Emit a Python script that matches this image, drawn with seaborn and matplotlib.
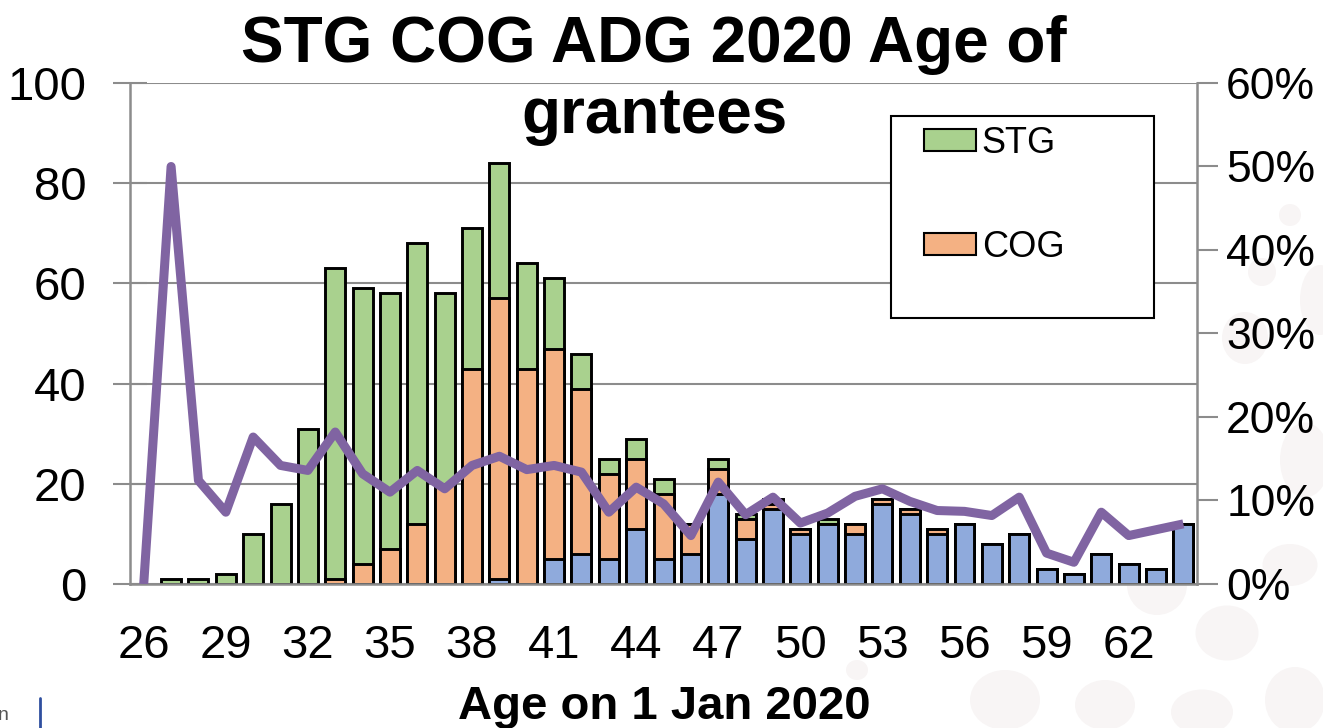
import numpy as np
import pandas as pd
import seaborn as sns
import matplotlib.pyplot as plt
from matplotlib.patches import Ellipse, Rectangle, Patch
from matplotlib.lines import Line2D
from matplotlib.ticker import PercentFormatter

# Datos
ages = [26, 27, 28, 29, 30, 31, 32, 33, 34, 35, 36, 37, 38, 39, 40, 41, 42, 43, 44,
        45, 46, 47, 48, 49, 50, 51, 52, 53, 54, 55, 56, 57, 58, 59, 60, 61, 62, 63, 64]
adg = [0, 0, 0, 0, 0, 0, 0, 0, 0, 0, 0, 0, 0, 1, 0, 5, 6, 5, 11,
       5, 6, 18, 9, 15, 10, 12, 10, 16, 14, 10, 12, 8, 10, 3, 2, 6, 4, 3, 12]
cog = [0, 0, 0, 0, 0, 0, 0, 1, 4, 7, 12, 20, 43, 56, 43, 42, 33, 17, 14,
       13, 6, 5, 4, 1, 1, 0, 2, 1, 1, 1, 0, 0, 0, 0, 0, 0, 0, 0, 0]
stg = [0, 1, 1, 2, 10, 16, 31, 62, 55, 51, 56, 38, 28, 27, 21, 14, 7, 3, 4,
       3, 0, 2, 1, 1, 0, 1, 0, 0, 0, 0, 0, 0, 0, 0, 0, 0, 0, 0, 0]
pct = [0, 50, 12.4, 8.6, 17.6, 14.2, 13.6, 18.2, 13.2, 11.0, 13.6, 11.4, 14.2, 15.3, 13.7, 14.2, 13.4, 8.6, 11.6,
       9.6, 5.8, 12.2, 8.3, 10.4, 7.3, 8.5, 10.5, 11.4, 9.9, 8.8, 8.7, 8.2, 10.4, 3.7, 2.6, 8.6, 5.8, 6.5, 7.2]

labels = [str(a) for a in ages]
df = pd.DataFrame({'age': labels, 'ADG': adg, 'COG': cog, 'STG': stg, 'pct': pct})
df['pos'] = df.index
# alturas acumuladas para apilar (las barras se dibujan una encima de otra)
df['total'] = (df['ADG'] + df['COG'] + df['STG']).replace(0, np.nan)
df['adg_cog'] = (df['ADG'] + df['COG']).replace(0, np.nan)
df['adg_only'] = df['ADG'].replace(0, np.nan)

verde = '#A9D18E'
naranja = '#F4B183'
azul = '#8FAADC'
morado = '#8064A2'
gris = '#8C8C8C'

sns.set_style('white')
plt.rcParams['font.family'] = ['Liberation Sans', 'DejaVu Sans']
plt.rcParams['text.color'] = 'black'
plt.rcParams['xtick.labelcolor'] = 'black'
plt.rcParams['ytick.labelcolor'] = 'black'

fig = plt.figure(figsize=(13.23, 7.28), dpi=100)

# circulos de fondo (marca de agua de la diapositiva)
W, H = 1323, 728
circulos = [(1290, 215, 22, 22), (1262, 272, 28, 28), (1245, 338, 46, 52), (1320, 300, 40, 70),
            (1305, 460, 50, 75), (1227, 633, 63, 55), (1295, 700, 60, 66), (1202, 712, 62, 45),
            (1290, 565, 55, 42), (1157, 585, 60, 60), (857, 670, 22, 20), (1005, 700, 70, 60),
            (1105, 705, 60, 50)]
for cx, cy, w, h in circulos:
    fig.add_artist(Ellipse((cx / W, 1 - cy / H), w / W, h / H, transform=fig.transFigure,
                           facecolor='#F8F5F5', edgecolor='none', zorder=-5))

ax = fig.add_axes([0.0983, 0.1978, 0.8065, 0.6882])

for col, c in [('total', verde), ('adg_cog', naranja), ('adg_only', azul)]:
    sns.barplot(data=df, x='age', y=col, order=labels, color=c, saturation=1, width=0.73,
                edgecolor='black', linewidth=2.1, ax=ax, zorder=2)

ax.set_ylim(0, 100)
ax.set_yticks([0, 20, 40, 60, 80, 100])
ax.yaxis.grid(True, color=gris, linewidth=1.5)
ax.set_axisbelow(True)
ax.set_xlabel('')
ax.set_ylabel('')

ax2 = ax.twinx()
sns.lineplot(data=df, x='pos', y='pct', color=morado, linewidth=6.5, ax=ax2,
             solid_joinstyle='round', solid_capstyle='butt')
ax2.set_ylim(0, 60)
ax2.set_yticks([0, 10, 20, 30, 40, 50, 60])
ax2.yaxis.set_major_formatter(PercentFormatter(100, decimals=0))
ax2.set_ylabel('')
ax2.set_xlabel('')

ax.set_xlim(-0.5, len(ages) - 0.5)
ax.set_xticks(np.arange(0, len(ages), 3))
ax.set_xticklabels(labels[::3])
ax.set_xticks(np.arange(-0.5, len(ages)), minor=True)
ax.tick_params(axis='x', which='major', length=0, pad=29, labelsize=34)
ax.tick_params(axis='x', which='minor', length=13, width=1.5, color=gris, direction='out')
ax.tick_params(axis='y', which='major', length=25, width=1.5, color=gris, direction='inout',
               pad=19, labelsize=34, left=True)
ax2.tick_params(axis='y', which='major', length=15, width=1.5, color=gris, direction='out',
                pad=6, labelsize=32, right=True)

for a in (ax, ax2):
    for s in a.spines.values():
        s.set_visible(False)
ax.spines['left'].set_visible(True)
ax.spines['bottom'].set_visible(True)
ax2.spines['right'].set_visible(True)
for s in (ax.spines['left'], ax.spines['bottom'], ax2.spines['right']):
    s.set_color(gris)
    s.set_linewidth(1.8)

# titulo y etiqueta del eje x
fig.text(654 / W, 1 - 62 / H, 'STG COG ADG 2020 Age of', ha='center', va='baseline',
         fontsize=46, fontweight='bold')
fig.text(655 / W, 1 - 133 / H, 'grantees', ha='center', va='baseline',
         fontsize=46, fontweight='bold')
fig.text(664 / W, 1 - 719 / H, 'Age on 1 Jan 2020', ha='center', va='baseline',
         fontsize=34, fontweight='bold')

# leyenda (solo STG y COG, como en el original)
fig.add_artist(Rectangle((891 / W, 1 - 318 / H), 263 / W, 202 / H, transform=fig.transFigure,
                         facecolor='white', edgecolor='black', linewidth=1.5, zorder=3))
handles = [Patch(facecolor=verde, edgecolor='black', linewidth=1.5),
           Patch(facecolor=naranja, edgecolor='black', linewidth=1.5)]
leg = fig.legend(handles, ['STG', 'COG'], loc='upper left', bbox_to_anchor=(924 / W, 1 - 126 / H),
                 frameon=False, fontsize=26, borderpad=0, borderaxespad=0, handlelength=1.45,
                 handleheight=0.55, handletextpad=0.15, labelspacing=1.9)
leg.set_zorder(4)

# restos de la diapositiva abajo a la izquierda
fig.add_artist(Line2D([40 / W, 40 / W], [0, 30 / H], transform=fig.transFigure, color='#2F4F9F', linewidth=2))
fig.text(-2 / W, 1 - 720 / H, 'n', fontsize=14, color='#555555', ha='left', va='baseline')

plt.savefig('out.png', dpi=100)
